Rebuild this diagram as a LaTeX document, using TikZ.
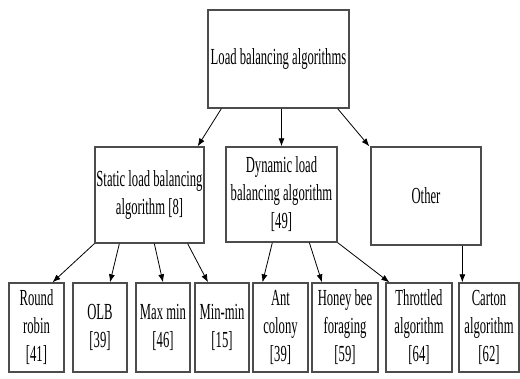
\documentclass[tikz,border=0pt]{standalone}
\usepackage{fontspec}
\setmainfont[FakeStretch=0.55]{Liberation Serif}
\usetikzlibrary{arrows.meta}

\begin{document}
\begin{tikzpicture}[x=1pt,y=-1pt,
	algoBox/.style={draw=black!70,line width=1.3pt,fill=white,inner sep=0pt,align=center,
		font=\fontsize{23}{28}\selectfont},
	algoArrow/.style={-{Latex[length=8pt,width=6pt]},line width=0.8pt}]
	\useasboundingbox (0,0) rectangle (520,379);

	%root
	\node[algoBox,minimum width=141pt,minimum height=98pt] (load) at (278.5,59) {Load balancing algorithms};

	%second level
	\node[algoBox,minimum width=109pt,minimum height=96pt] (static) at (149.5,195) {Static load balancing\\algorithm [8]};
	\node[algoBox,minimum width=111pt,minimum height=95pt] (dynamic) at (281.5,194.5) {Dynamic load\\balancing algorithm\\{}[49]};
	\node[algoBox,minimum width=110pt,minimum height=98pt] (other) at (426,196) {Other};

	%leaves
	\node[algoBox,minimum width=55pt,minimum height=89pt] (robin) at (36.5,327.5) {Round\\robin\\{}[41]};
	\node[algoBox,minimum width=54pt,minimum height=89pt] (olb) at (100,327.5) {OLB\\{}[39]};
	\node[algoBox,minimum width=54pt,minimum height=89pt] (maxmin) at (163,327.5) {Max min\\{}[46]};
	\node[algoBox,minimum width=54pt,minimum height=89pt] (minmin) at (222,327.5) {Min-min\\{}[15]};
	\node[algoBox,minimum width=55pt,minimum height=89pt] (ant) at (280.5,327.5) {Ant\\colony\\{}[39]};
	\node[algoBox,minimum width=66pt,minimum height=89pt] (honey) at (345,327.5) {Honey bee\\foraging\\{}[59]};
	\node[algoBox,minimum width=66pt,minimum height=89pt] (throttled) at (419,327.5) {Throttled\\algorithm\\{}[64]};
	\node[algoBox,minimum width=60pt,minimum height=89pt] (carton) at (489,327.5) {Carton\\algorithm\\{}[62]};

	%root to second level
	\draw[algoArrow] ([xshift=14pt]load.south west) -- ([xshift=-7pt]static.north east);
	\draw[algoArrow] (load.south -| dynamic.north) -- (dynamic.north);
	\draw[algoArrow] ([xshift=-12pt]load.south east) -- ([xshift=-1pt]other.north west);

	%static
	\draw[algoArrow] (static.south west) -- ([xshift=16pt]robin.north);
	\draw[algoArrow] ([xshift=25pt]static.south west) -- ([xshift=10pt]olb.north);
	\draw[algoArrow] ([xshift=60pt]static.south west) -- (maxmin.north);
	\draw[algoArrow] ([xshift=-17pt]static.south east) -- ([xshift=-14pt]minmin.north);

	%dynamic
	\draw[algoArrow] ([xshift=47pt]dynamic.south west) -- ([xshift=-18pt]ant.north);
	\draw[algoArrow] ([xshift=84pt]dynamic.south west) -- ([xshift=-23pt]honey.north);
	\draw[algoArrow] (dynamic.south east) -- ([xshift=4pt]throttled.north west);

	%other
	\draw[algoArrow] ([xshift=92pt]other.south west) -- ([xshift=4pt]carton.north west);
\end{tikzpicture}
\end{document}
